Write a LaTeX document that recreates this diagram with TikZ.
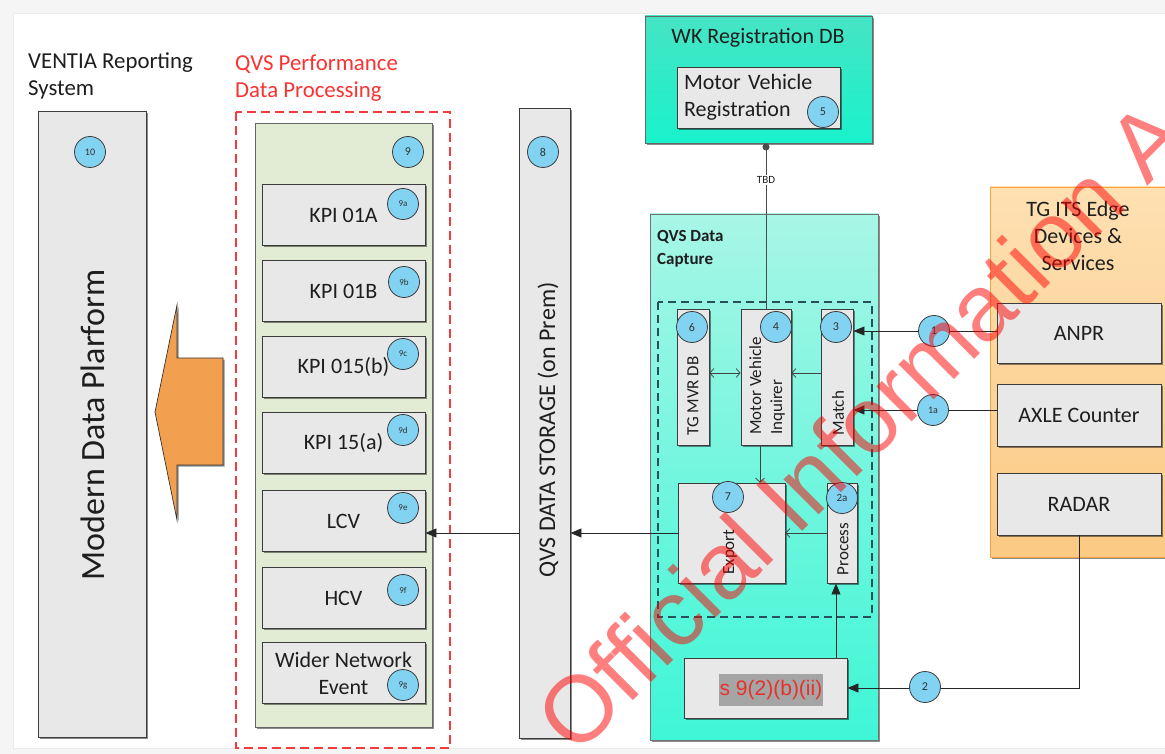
\documentclass[tikz,border=0pt]{standalone}
\usepackage{fontspec}
\setmainfont{Carlito}
\newfontfamily\arialfont{Liberation Sans}
\usetikzlibrary{arrows.meta,shadows,calc}

\definecolor{boxgray}{RGB}{232,232,232}
\definecolor{edge}{RGB}{60,60,60}
\definecolor{numblue}{RGB}{130,210,242}
\definecolor{procgreen}{RGB}{226,235,211}
\definecolor{tealtop}{RGB}{70,228,196}
\definecolor{tealbot}{RGB}{25,242,204}
\definecolor{captop}{RGB}{168,246,230}
\definecolor{capbot}{RGB}{62,246,214}
\definecolor{orgtop}{RGB}{254,224,178}
\definecolor{orgbot}{RGB}{251,202,132}
\definecolor{orgedge}{RGB}{245,165,60}
\definecolor{arroworange}{RGB}{242,160,80}
\definecolor{textdark}{RGB}{30,30,30}
\definecolor{dashred}{RGB}{245,60,60}
\definecolor{redtitle}{RGB}{250,50,50}
\definecolor{dashteal}{RGB}{40,80,90}
\definecolor{redactgray}{RGB}{165,165,165}
\definecolor{redacttext}{RGB}{232,48,44}

\newcommand\dgmed{\fontsize{22}{27}\selectfont}
\newcommand\dgtitle{\fontsize{22.8}{27}\selectfont}
\newcommand\dgbig{\fontsize{34}{34}\selectfont}
\newcommand\dgrot{\fontsize{17}{21}\selectfont}
\newcommand\dgnum{\fontsize{12}{12}\selectfont}
\newcommand\dgsub{\fontsize{9}{9}\selectfont}

\tikzset{
  dshadow/.style={drop shadow={shadow xshift=1.6pt,shadow yshift=-1.6pt,fill=black,opacity=0.45}},
  gbox/.style={draw=edge, line width=0.9pt, fill=boxgray, dshadow, inner sep=0pt,
    text=textdark, font=\dgmed, align=center},
  numc/.style={circle, draw=edge, line width=0.8pt, fill=numblue, minimum size=31pt,
    inner sep=0pt, text=black!80, font=\dgnum},
  subc/.style={numc, font=\dgsub},
  rottext/.style={rotate=90, text=textdark, font=\dgrot, inner sep=0pt},
  bigarrow/.style={-{Triangle[length=11pt,width=9pt]}, line width=0.8pt, draw=black!85},
  smallarrow/.style={-{Straight Barb[length=4pt,width=9pt]}, line width=0.7pt, draw=black!75},
  bothsmall/.style={{Straight Barb[length=4pt,width=9pt]}-{Straight Barb[length=4pt,width=9pt]}, line width=0.7pt, draw=black!75},
}

\begin{document}
\begin{tikzpicture}[x=1pt,y=-1pt]
\clip (0,0) rectangle (1165,754);
% page background and frame
\fill[black!4] (0,0) rectangle (1165,754);
\filldraw[fill=white, draw=black!8] (13,13) rectangle (1168,748);

% ---------------- reporting system ----------------
\node[anchor=west, align=left, inner sep=0pt, text=textdark, font=\dgtitle] (ventiatitle) at (28,76)
  {VENTIA Reporting\\System};
\node[gbox, minimum width=108pt, minimum height=626pt] (mdp) at (92,424) {};
\node[rottext, font=\dgbig] (mdptext) at (93,425) {Modern Data Plarform};

% big orange arrow into the platform
\filldraw[fill=arroworange, draw=black!80, line width=0.7pt, dshadow]
  (223,358) -- (177,358) -- (177,305) -- (155,412) -- (177,520) -- (177,465) -- (223,465) -- cycle;

% ---------------- performance data processing ----------------
\node[anchor=west, align=left, inner sep=0pt, text=redtitle, font=\dgtitle] (qvsperf) at (235,78)
  {QVS Performance\\Data Processing};
\draw[dashred, line width=2pt, dash pattern=on 9pt off 5pt] (236,112) rectangle (450,748);
\node[draw=black!60, line width=0.9pt, fill=procgreen, dshadow, minimum width=177pt, minimum height=604pt] (proc) at (343.5,425) {};

\node[gbox, minimum width=163pt, minimum height=61pt] (kpia) at (343.5,215) {KPI 01A};
\node[gbox, minimum width=163pt, minimum height=61pt] (kpib) at (343.5,291) {KPI 01B};
\node[gbox, minimum width=163pt, minimum height=61pt] (kpic) at (343.5,366.5) {KPI 015(b)};
\node[gbox, minimum width=163pt, minimum height=61pt] (kpid) at (343.5,442.5) {KPI 15(a)};
\node[gbox, minimum width=163pt, minimum height=61pt] (lcv) at (343.5,521) {LCV};
\node[gbox, minimum width=163pt, minimum height=61pt] (hcv) at (343.5,598) {HCV};
\node[gbox, minimum width=163pt, minimum height=61pt] (wider) at (343.5,673) {Wider Network\\Event};

% ---------------- storage ----------------
\node[gbox, minimum width=51pt, minimum height=630pt] (storage) at (544.5,423) {};
\node[rottext, font=\fontsize{24}{24}\selectfont] (storagetext) at (548,430) {QVS DATA STORAGE (on Prem)};

% ---------------- registration database ----------------
\node[draw=black!60, line width=0.9pt, top color=tealtop, bottom color=tealbot, dshadow,
  minimum width=227pt, minimum height=127pt] (wk) at (758.5,79.5) {};
\node[text=textdark, font=\dgmed, inner sep=0pt] (wktitle) at (758,38) {WK Registration DB};
\node[gbox, minimum width=163pt, minimum height=61pt, text width=149pt, inner xsep=7pt, align=left] (mvr) at (758.5,97.5)
  {Motor Vehicle\\Registration};

% ---------------- data capture ----------------
\node[draw=black!55, line width=0.9pt, top color=captop, bottom color=capbot, dshadow,
  minimum width=228pt, minimum height=526pt] (capture) at (764,477) {};
\node[anchor=north west, align=left, inner sep=0pt, text=textdark,
  font=\fontsize{17}{23}\selectfont\bfseries] (capturetitle) at (657,230) {QVS Data\\Capture};
\draw[dashteal, line width=1.1pt, dash pattern=on 8pt off 5pt] (658,302) rectangle (872,617);

\node[gbox, minimum width=32pt, minimum height=136pt] (tgmvr) at (693,377) {};
\node[rottext] at (693,396) {TG MVR DB};
\node[gbox, minimum width=50pt, minimum height=136pt] (inq) at (766,377) {};
\node[rottext, align=left] at (767,386) {Motor Vehicle\\Inquirer};
\node[gbox, minimum width=32pt, minimum height=136pt] (match) at (837,377) {};
\node[rottext] at (838,413) {Match};
\node[gbox, minimum width=107pt, minimum height=100pt] (export) at (731.5,533) {};
\node[rottext] at (730,552) {Export};
\node[gbox, minimum width=30pt, minimum height=100pt] (process) at (842,533) {};
\node[rottext] at (843,549) {Process};
\node[gbox, minimum width=163pt, minimum height=60pt] (s9) at (765.5,688) {};
\node[fill=redactgray, text=redacttext, font=\arialfont\fontsize{21}{21}\selectfont,
  minimum width=104pt, minimum height=32pt, inner sep=0pt] (s9text) at (771,690) {s 9(2)(b)(ii)};

% ---------------- edge devices ----------------
\node[draw=orgedge, line width=0.9pt, top color=orgtop, bottom color=orgbot, dshadow,
  minimum width=200pt, minimum height=370pt] (edgepanel) at (1090,372) {};
\node[align=center, text=textdark, font=\dgmed, inner sep=0pt] (edgetitle) at (1078,236)
  {TG ITS Edge\\Devices \&\\Services};
\node[gbox, minimum width=164pt, minimum height=60pt] (anpr) at (1079,333) {ANPR};
\node[gbox, minimum width=164pt, minimum height=62pt] (axle) at (1079,415) {AXLE Counter};
\node[gbox, minimum width=164pt, minimum height=62pt] (radar) at (1079,504) {RADAR};

% ---------------- connectors ----------------
\draw[line width=0.8pt, draw=black!70, {Circle[length=7pt]}-] (inq.north |- wk.south)
  -- node[pos=0.22, fill=white, inner sep=1.5pt, font=\fontsize{11}{11}\selectfont, text=textdark] (tbd) {TBD} (inq.north);
\draw[bigarrow] ([yshift=2pt]anpr.west) -- ([yshift=2pt]anpr.west -| match.east);
\draw[bigarrow] ([yshift=5pt]axle.west) -- ([yshift=5pt]axle.west -| match.east);
\draw[bigarrow] (radar.south) |- (s9.east);
\draw[bigarrow] ([xshift=-6pt]process.south |- s9.north) -- ([xshift=-6pt]process.south);
\draw[bothsmall] ([yshift=4pt]tgmvr.east) -- ([yshift=4pt]inq.west);
\draw[smallarrow] ([yshift=4pt]match.west) -- ([yshift=4pt]inq.east);
\draw[smallarrow] ([xshift=-6pt]inq.south) -- ([xshift=-6pt]inq.south |- export.north);
\draw[smallarrow] (process.west) -- (process.west -| export.east);
\draw[bigarrow] (export.west) -- (export.west -| storage.east);
\draw[bigarrow] (export.west -| storage.west) -- (export.west -| lcv.east);

% ---------------- step numbers ----------------
\node[numc, font=\fontsize{10}{10}\selectfont] (n10) at (90,152) {10};
\node[numc] (n9) at (408,152) {9};
\node[subc] (n9a) at (403,204) {9a};
\node[subc] (n9b) at (404,282) {9b};
\node[subc] (n9c) at (403,354) {9c};
\node[subc] (n9d) at (403,430) {9d};
\node[subc] (n9e) at (403,508) {9e};
\node[subc] (n9f) at (403,590) {9f};
\node[subc] (n9g) at (403,685) {9g};
\node[numc] (n8) at (543,152) {8};
\node[numc] (n5) at (823,112) {5};
\node[numc] (n6) at (692,327) {6};
\node[numc] (n4) at (776,327) {4};
\node[numc] (n3) at (836,327) {3};
\node[numc] (n7) at (728,497) {7};
\node[numc, font=\fontsize{11}{11}\selectfont] (n2a) at (842,498) {2a};
\node[numc] (n1) at (934,331) {1};
\node[numc, font=\fontsize{10}{10}\selectfont] (n1a) at (933,410) {1a};
\node[numc] (n2) at (925,687) {2};

% ---------------- watermark ----------------
\node[rotate=45, anchor=base west, inner sep=0pt, text=red, text opacity=0.5,
  font=\arialfont\fontsize{94}{94}\selectfont] (watermark) at (576,758) {Official Information Act};
\end{tikzpicture}
\end{document}
